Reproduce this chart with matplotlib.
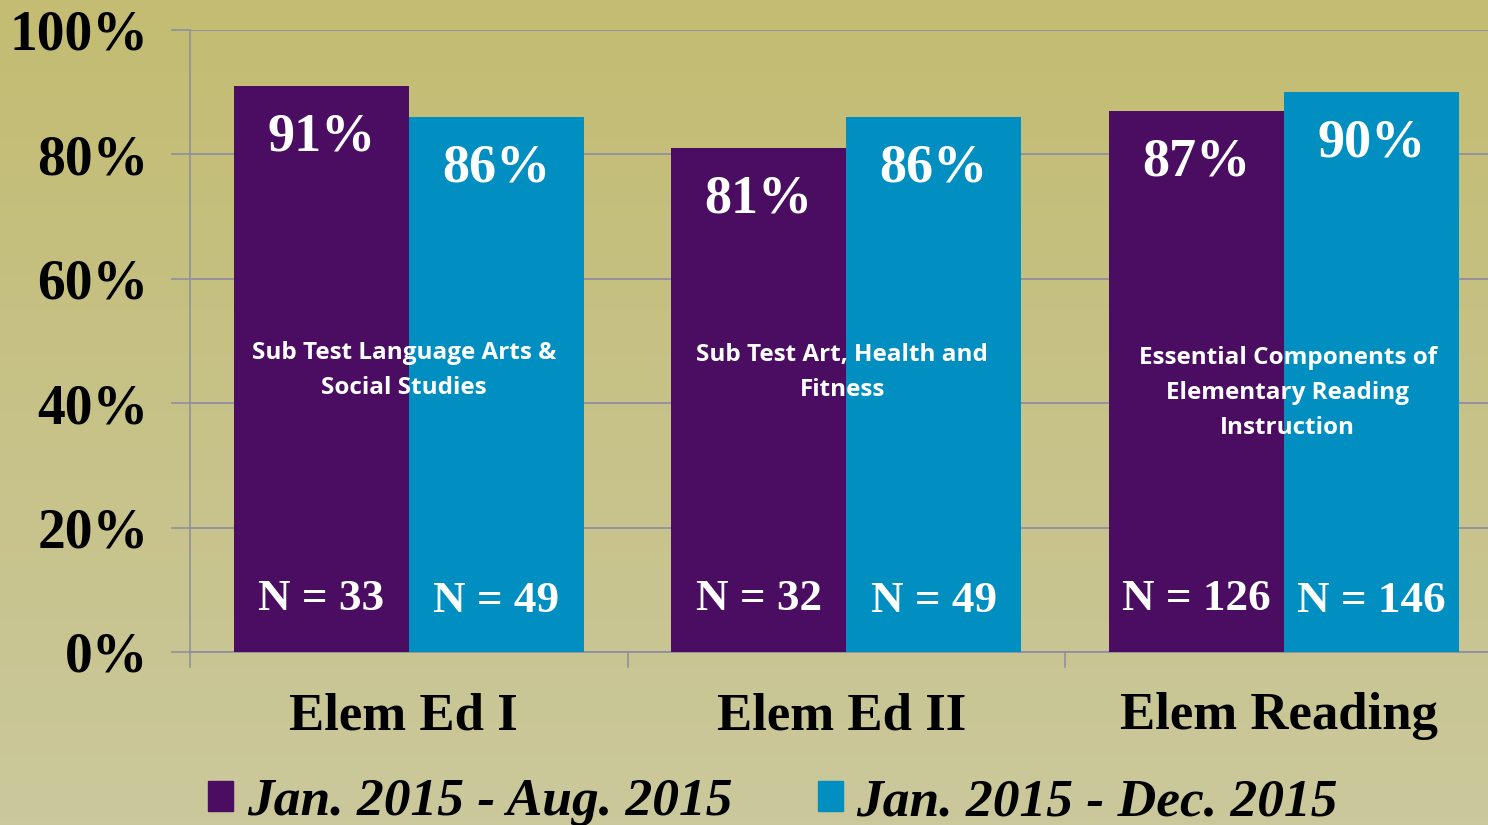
import numpy as np
import matplotlib.pyplot as plt
import matplotlib.transforms as mtransforms
from matplotlib.patches import Patch

# Data
categories = ["Elem Ed I", "Elem Ed II", "Elem Reading"]
series_names = ["Jan. 2015 - Aug. 2015", "Jan. 2015 - Dec. 2015"]
aug_vals = [91, 81, 87]
dec_vals = [86, 86, 90]
aug_n = [33, 32, 126]
dec_n = [49, 49, 146]
subtests = ["Sub Test Language Arts &\nSocial Studies",
            "Sub Test Art, Health and\nFitness",
            "Essential Components of\nElementary Reading\nInstruction"]
yticks = [0, 20, 40, 60, 80, 100]

purple = "#4A0D62"
blue = "#018FC1"
grid_c = "#8F8FA0"
serif = "Liberation Serif"

fig = plt.figure(figsize=(14.88, 8.25), dpi=100)

# background gradient
bg = fig.add_axes([0, 0, 1, 1], zorder=-10)
top = np.array([0xC3, 0xBC, 0x72]) / 255
bot = np.array([0xCB, 0xC8, 0x9C]) / 255
t = np.linspace(0, 1, 256)[:, None]
grad = top * (1 - t) + bot * t
bg.imshow(grad[:, None, :], aspect="auto", extent=[0, 1, 0, 1])
bg.axis("off")

ax = fig.add_axes([190 / 1488, 1 - 652 / 825, 1312.5 / 1488, 622 / 825])
ax.patch.set_alpha(0)

x = np.arange(len(categories))
w = 0.4
ax.bar(x - w / 2, aug_vals, w, color=purple, zorder=3)
ax.bar(x + w / 2, dec_vals, w, color=blue, zorder=3)

for i in range(len(categories)):
    ax.text(x[i] - w / 2, aug_vals[i] - 8.3, f"{aug_vals[i]}%", ha="center", va="center",
            color="white", fontsize=39, fontweight="bold", family=serif, zorder=4)
    ax.text(x[i] + w / 2, dec_vals[i] - 8.3, f"{dec_vals[i]}%", ha="center", va="center",
            color="white", fontsize=39, fontweight="bold", family=serif, zorder=4)
    ax.text(x[i] - w / 2, 8.6, f"N = {aug_n[i]}", ha="center", va="center",
            color="white", fontsize=32.5, fontweight="bold", family=serif, zorder=4)
    ax.text(x[i] + w / 2, 8.2, f"N = {dec_n[i]}", ha="center", va="center",
            color="white", fontsize=32.5, fontweight="bold", family=serif, zorder=4)

sub_y = [50.0, 49.7, 49.2]
sub_dx = [-0.011, -0.009, 0.009]
for i, s in enumerate(subtests):
    ax.text(x[i] + sub_dx[i], sub_y[i], s, ha="center", va="top", color="white",
            fontsize=17.5, fontweight="bold", family="Open Sans",
            linespacing=1.62, zorder=4)

ax.set_xlim(-0.5, 2.5)
ax.set_ylim(0, 100)
ax.set_yticks(yticks)
ax.set_yticklabels([f"{v}%" for v in yticks], fontsize=40, fontweight="bold", family=serif)
ax.set_xticks(x)
ax.set_xticklabels(categories, fontsize=38, fontweight="bold", family=serif)
ax.tick_params(axis="x", length=0, pad=29)
ax.tick_params(axis="y", length=14, width=1.2, color=grid_c, pad=16)
shift = mtransforms.ScaledTranslation(-5 / 100, 0, fig.dpi_scale_trans)
for lab in ax.get_xticklabels():
    lab.set_transform(lab.get_transform() + shift)
for xb in [-0.5, 0.5, 1.5]:
    ax.plot([xb, xb], [0, -2.4], color=grid_c, lw=1.2, clip_on=False, zorder=2)

ax.grid(axis="y", color=grid_c, lw=1.3, zorder=1)
for sp in ["top", "right"]:
    ax.spines[sp].set_visible(False)
ax.spines["left"].set_color(grid_c)
ax.spines["left"].set_linewidth(1.2)
ax.spines["bottom"].set_color(grid_c)
ax.spines["bottom"].set_linewidth(1.3)

handles = [Patch(color=purple), Patch(color=blue)]
leg = fig.legend(handles, series_names, loc="center", bbox_to_anchor=(773 / 1488, 1 - 802 / 825),
                 ncol=2, frameon=False, handlelength=0.47, handleheight=0.47, handletextpad=0.25,
                 columnspacing=1.6,
                 prop={"family": serif, "size": 38.5, "weight": "bold", "style": "italic"})

fig.savefig("out.png", dpi=100)
